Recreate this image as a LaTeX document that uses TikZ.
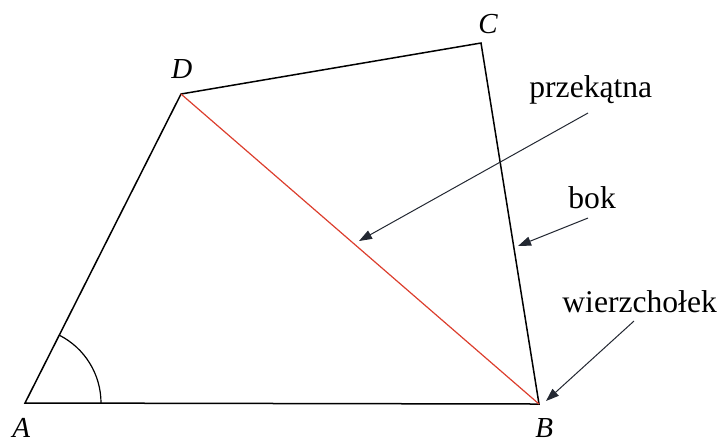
\documentclass[tikz,border=0pt]{standalone}
\usepackage{fontspec}
\setmainfont{Liberation Serif}
\usetikzlibrary{arrows.meta}
\definecolor{diagred}{RGB}{220,62,45}
\definecolor{arrowgray}{RGB}{35,40,50}
\tikzset{
  side/.style={line width=0.75pt, black, line join=miter},
  diag/.style={line width=0.6pt, diagred},
  pointer/.style={line width=0.5pt, arrowgray, -{Triangle[length=6.5pt,width=4.6pt]}},
  vlabel/.style={anchor=base west, inner sep=0pt, font=\fontsize{14.5}{16}\selectfont\itshape},
  wlabel/.style={anchor=base west, inner sep=0pt, font=\fontsize{15.8}{18}\selectfont},
}
\begin{document}
\begin{tikzpicture}[x=0.5pt,y=-0.5pt]
\useasboundingbox (0,0) rectangle (726,441);
\coordinate (A) at (25,403);
\coordinate (B) at (539,404);
\coordinate (C) at (481,43);
\coordinate (D) at (181,94);
% sides
\draw[side] (A) -- (B) -- (C) -- (D) -- cycle;
% diagonal
\draw[diag] (D) -- (B);
% angle arc at A
\draw[line width=0.6pt] (101,403) arc[start angle=0, end angle=63.2, radius=38pt];
% vertex labels
\node[vlabel] (lA) at (12,437) {A};
\node[vlabel] (lB) at (535,437) {B};
\node[vlabel] (lC) at (478,33) {C};
\node[vlabel] (lD) at (171,78) {D};
% word labels
\node[wlabel] (przek) at (529,97) {przekątna};
\node[wlabel] (bok) at (568,208) {bok};
\node[wlabel] (wierz) at (562,312) {wierzchołek};
% arrows
\coordinate (p1) at (588,113);
\coordinate (p2) at (359,241);
\coordinate (b1) at (588,218);
\coordinate (b2) at (518,246);
\coordinate (w1) at (634,321);
\coordinate (w2) at (546,401);
\draw[pointer] (p1) -- (p2);
\draw[pointer] (b1) -- (b2);
\draw[pointer] (w1) -- (w2);
\end{tikzpicture}
\end{document}
